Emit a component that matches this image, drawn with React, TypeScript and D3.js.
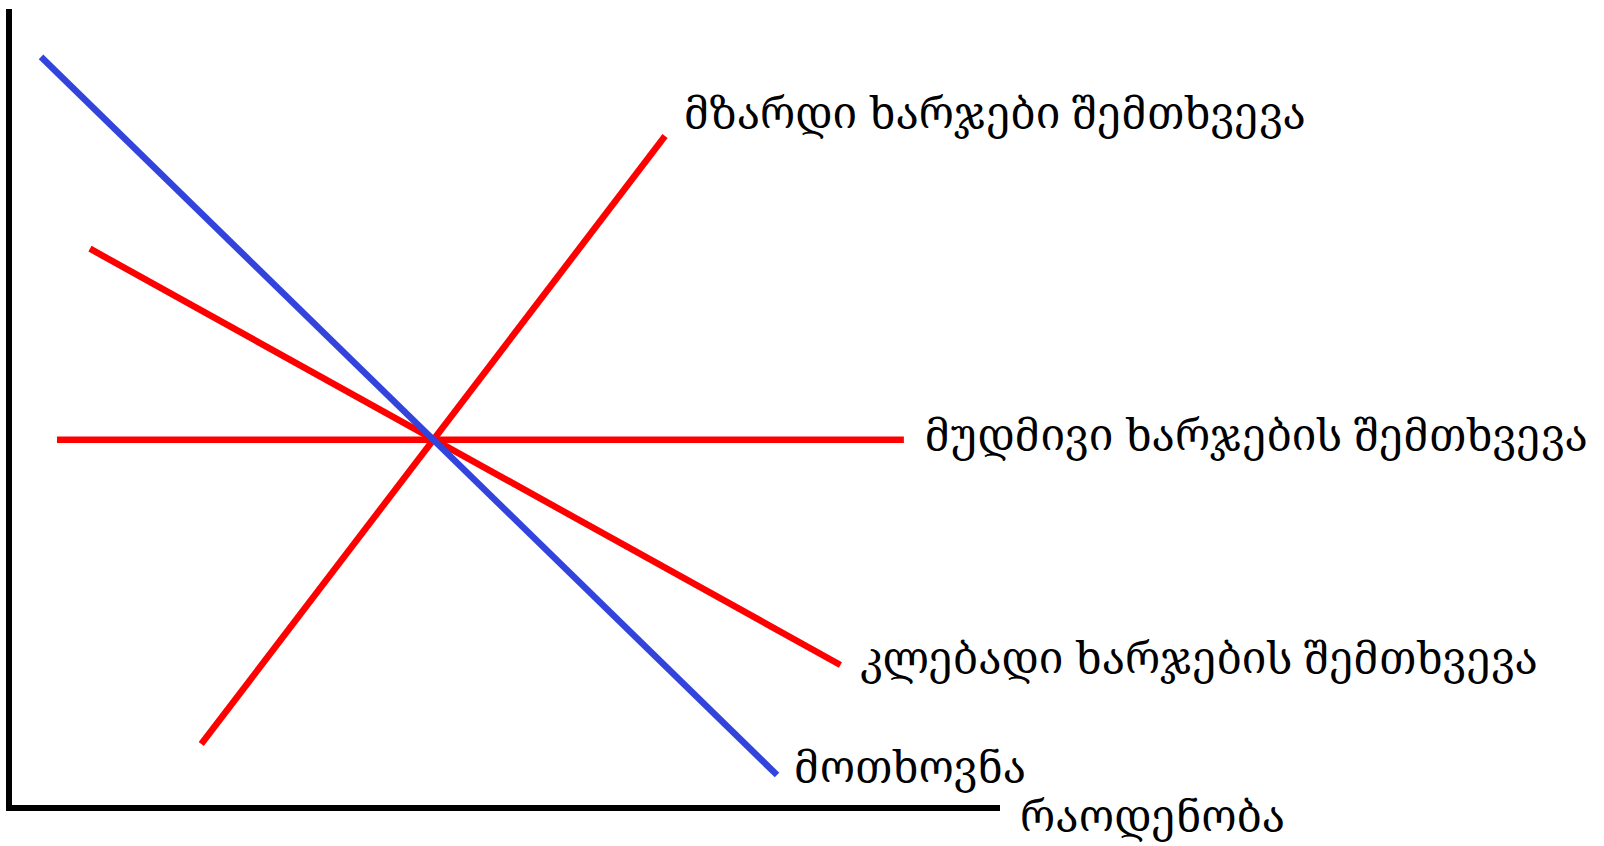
import React from "react";
import * as d3 from "d3";

const W = 1604;
const H = 846;

// data space: quantity (x) 0..10, price (y) 0..10
const demand = [
  { q: 0.323, p: 9.4 },
  { q: 7.75, p: 0.413 },
];
const increasingCost = [
  { q: 1.94, p: 0.8 },
  { q: 6.62, p: 8.41 },
];
const constantCost = [
  { q: 0.484, p: 4.61 },
  { q: 9.03, p: 4.61 },
];
const decreasingCost = [
  { q: 0.817, p: 7.0 },
  { q: 8.39, p: 1.79 },
];

const seriesNames = [
  "მოთხოვნა",
  "მზარდი ხარჯები შემთხვევა",
  "მუდმივი ხარჯების შემთხვევა",
  "კლებადი ხარჯების შემთხვევა",
];
const xAxisLabel = "რაოდენობა";

const BLUE = "#3344dd";
const RED = "#ff0000";

export default function App() {
  const x = d3.scaleLinear().domain([0, 10]).range([9, 1000]);
  const y = d3.scaleLinear().domain([0, 10]).range([808, 9]);
  const line = d3
    .line<{ q: number; p: number }>()
    .x((d) => x(d.q))
    .y((d) => y(d.p));

  const font = "'Noto Serif Georgian', 'DejaVu Serif', serif";
  const fs = 43.5;

  const series = [
    { data: increasingCost, color: RED },
    { data: constantCost, color: RED },
    { data: decreasingCost, color: RED },
    { data: demand, color: BLUE },
  ];

  return (
    <svg
      width={W}
      height={H}
      style={{ position: "absolute", left: 0, top: 0, background: "#fff" }}
    >
      {/* axes */}
      <line x1={x(0)} y1={y(10)} x2={x(0)} y2={y(0) + 3} stroke="#000" strokeWidth={6} />
      <line x1={x(0) - 3} y1={y(0)} x2={x(10)} y2={y(0)} stroke="#000" strokeWidth={6} />

      {series.map((s, i) => (
        <path key={i} d={line(s.data) || ""} stroke={s.color} strokeWidth={6.5} fill="none" />
      ))}

      <g fontFamily={font} fontSize={fs} fill="#000">
        <text x={x(demand[1].q) + 17} y={y(demand[1].p) + 7}>{seriesNames[0]}</text>
        <text x={x(increasingCost[1].q) + 19} y={y(increasingCost[1].p) - 8}>{seriesNames[1]}</text>
        <text x={x(constantCost[1].q) + 21} y={y(constantCost[1].p) + 10}>{seriesNames[2]}</text>
        <text x={x(decreasingCost[1].q) + 19} y={y(decreasingCost[1].p) + 8}>{seriesNames[3]}</text>
        <text x={x(10) + 20} y={y(0) + 23}>{xAxisLabel}</text>
      </g>
    </svg>
  );
}
